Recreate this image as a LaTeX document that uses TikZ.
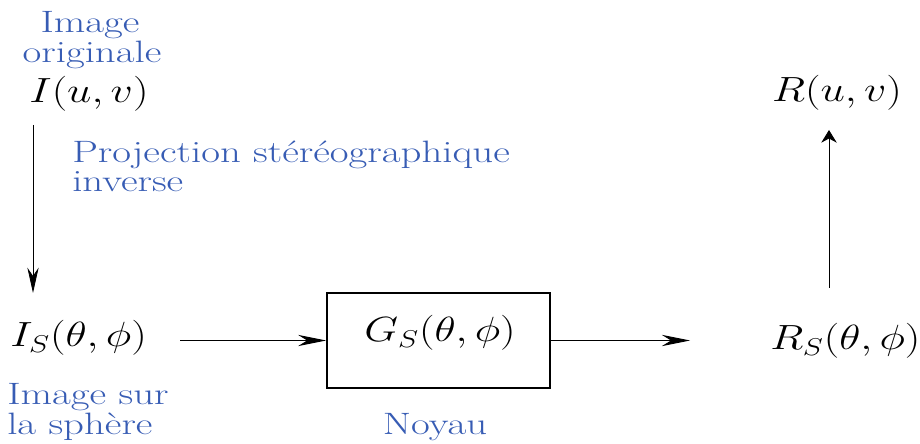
\documentclass[tikz,border=0pt]{standalone}
\usetikzlibrary{arrows.meta}
\definecolor{lblue}{RGB}{55,92,180}
\newcommand{\hs}[1]{\scalebox{1.32}[1]{#1}}
\newcommand{\hm}[1]{\scalebox{1.25}[1]{#1}}
\begin{document}
\begin{tikzpicture}[x=0.025cm,y=-0.025cm,
  lbl/.style={text=lblue,font=\fontsize{22}{26}\selectfont,inner sep=0},
  mth/.style={font=\fontsize{23}{27}\selectfont,inner sep=0},
  arr/.style={line width=0.6pt}]
\useasboundingbox (0,0) rectangle (920,444);
\node[lbl,anchor=base] (t1) at (90,33) {\hs{Image}};
\node[lbl,anchor=base] (t2) at (92,63) {\hs{originale}};
\node[mth,anchor=base] (I) at (89,103) {\hm{$I(u,v)$}};
\node[lbl,anchor=base west] (p1) at (72,163) {\hs{Projection stéréographique}};
\node[lbl,anchor=base west] (p2) at (72,192) {\hs{inverse}};
\node[mth,anchor=base west] (IS) at (10,347) {\hm{$I_S(\theta,\phi)$}};
\node[draw,line width=1.1pt,minimum width=5.575cm,minimum height=2.375cm,inner sep=0] (box) at (438.5,340.5) {};
\node[mth,anchor=base] (G) at (440,342) {\hm{$G_S(\theta,\phi)$}};
\node[mth,anchor=base west] (RS) at (770,350) {\hm{$R_S(\theta,\phi)$}};
\node[mth,anchor=base] (R) at (837,102) {\hm{$R(u,v)$}};
\node[lbl,anchor=base west] (s1) at (7,405) {\hs{Image sur}};
\node[lbl,anchor=base west] (s2) at (7,435) {\hs{la sphère}};
\node[lbl,anchor=base] (n) at (435,435) {\hs{Noyau}};
\coordinate (d1) at (33,125);
\coordinate (d2) at (33,293);
\coordinate (h1) at (180,340.5);
\coordinate (h2) at (690,340.5);
\coordinate (u1) at (829,288);
\coordinate (u2) at (829,130);
\draw[arr,-{Stealth[length=18pt,width=8pt]}] (d1) -- (d2);
\draw[arr,-{Stealth[length=20pt,width=8pt]}] (h1) -- (box.west);
\draw[arr,-{Stealth[length=20pt,width=8pt]}] (box.east) -- (h2);
\draw[arr,-{Stealth[length=9pt,width=11pt]}] (u1) -- (u2);
\end{tikzpicture}
\end{document}
